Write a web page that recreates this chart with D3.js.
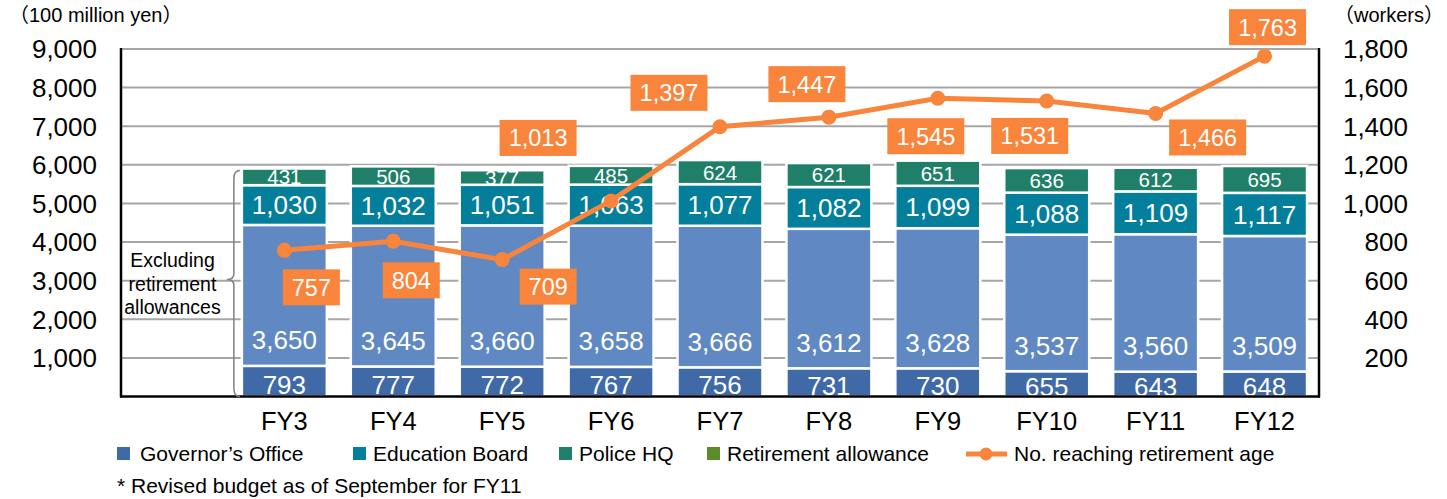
<!DOCTYPE html>
<html>
<head>
<meta charset="utf-8">
<script src="https://cdn.jsdelivr.net/npm/d3@7"></script>
<style>
  body { margin: 0; background: #fff; }
  svg { font-family: "Liberation Sans", Arial, "Noto Sans CJK JP", sans-serif; }
</style>
</head>
<body>
<div id="chart"></div>
<script>
// data
const categories = ["FY3", "FY4", "FY5", "FY6", "FY7", "FY8", "FY9", "FY10", "FY11", "FY12"];
const governorsOffice = [793, 777, 772, 767, 756, 731, 730, 655, 643, 648];
const schoolStaff = [3650, 3645, 3660, 3658, 3666, 3612, 3628, 3537, 3560, 3509];
const educationBoard = [1030, 1032, 1051, 1063, 1077, 1082, 1099, 1088, 1109, 1117];
const policeHQ = [431, 506, 377, 485, 624, 621, 651, 636, 612, 695];
const retirees = [757, 804, 709, 1013, 1397, 1447, 1545, 1531, 1466, 1763];
const leftTicks = [1000, 2000, 3000, 4000, 5000, 6000, 7000, 8000, 9000];
const rightTicks = [200, 400, 600, 800, 1000, 1200, 1400, 1600, 1800];

// where each orange label box sits relative to its point
const labelOffsets = [[27, 37], [18, 39], [46, 27], [-73, -63], [-51, -34], [-22, -33], [-12, 38], [-17, 35], [52, 24], [3, -29]];

const width = 1447, height = 499;
const plotLeft = 121, plotRight = 1319, plotTop = 49, plotBottom = 396.5;
const orange = "#F8853B";

const svg = d3.select("#chart").append("svg")
    .attr("width", width)
    .attr("height", height);

const rows = categories.map((c, i) => ({
    cat: c,
    gov: governorsOffice[i],
    school: schoolStaff[i],
    edu: educationBoard[i],
    police: policeHQ[i],
    retirees: retirees[i]
}));

// empty first slot holds the brace note
const x = d3.scaleBand()
    .domain([""].concat(categories))
    .range([plotLeft, plotRight])
    .paddingInner(0.22)
    .paddingOuter(0.11);

const y = d3.scaleLinear().domain([0, 9000]).range([plotBottom, plotTop]);
const yR = d3.scaleLinear().domain([0, 1800]).range([plotBottom, plotTop]);

// gridlines
svg.append("g").selectAll("line")
    .data(leftTicks)
    .enter().append("line")
        .attr("x1", plotLeft).attr("x2", plotRight)
        .attr("y1", (d) => y(d)).attr("y2", (d) => y(d))
        .attr("stroke", "#A6A6A6")
        .attr("stroke-width", 2);

// stacked bars
const keys = ["gov", "school", "edu", "police"];
const colors = { gov: "#3F69A7", school: "#6089C4", edu: "#037E9B", police: "#1F7F69" };
const stacked = d3.stack().keys(keys)(rows);

const layers = svg.append("g").selectAll("g")
    .data(stacked)
    .enter().append("g")
        .attr("fill", (d) => colors[d.key]);

layers.selectAll("rect")
    .data((d) => d)
    .enter().append("rect")
        .attr("x", (d) => x(d.data.cat))
        .attr("width", x.bandwidth())
        .attr("y", (d) => y(d[1]))
        .attr("height", (d) => y(d[0]) - y(d[1]))
        .attr("stroke", "#fff")
        .attr("stroke-width", 2.5);

// bar value labels
stacked.forEach((layer) => {
    svg.append("g").selectAll("text")
        .data(layer)
        .enter().append("text")
            .attr("x", (d) => x(d.data.cat) + x.bandwidth() / 2)
            .attr("y", (d) => {
                if (layer.key === "school") return y(d[0]) - 26;
                if (layer.key === "gov") return (y(d[0]) + y(d[1])) / 2 + 3;
                return (y(d[0]) + y(d[1])) / 2;
            })
            .attr("dy", "0.36em")
            .attr("text-anchor", "middle")
            .attr("fill", "#fff")
            .attr("font-size", layer.key === "police" ? 20.5 : 26)
            .text((d) => d3.format(",")(d.data[layer.key]));
});

// axis lines
svg.append("line").attr("x1", plotLeft).attr("x2", plotLeft).attr("y1", plotTop - 1).attr("y2", plotBottom + 1)
    .attr("stroke", "#000").attr("stroke-width", 2.5);
svg.append("line").attr("x1", plotRight).attr("x2", plotRight).attr("y1", plotTop - 1).attr("y2", plotBottom + 1)
    .attr("stroke", "#000").attr("stroke-width", 2.5);
svg.append("line").attr("x1", plotLeft - 1).attr("x2", plotRight + 1).attr("y1", plotBottom).attr("y2", plotBottom)
    .attr("stroke", "#000").attr("stroke-width", 2.5);

// tick labels
svg.append("g").selectAll("text")
    .data(leftTicks)
    .enter().append("text")
        .attr("x", 97)
        .attr("y", (d) => y(d))
        .attr("dy", "0.36em")
        .attr("text-anchor", "end")
        .attr("font-size", 26)
        .text((d) => d3.format(",")(d));

svg.append("g").selectAll("text")
    .data(rightTicks)
    .enter().append("text")
        .attr("x", 1408)
        .attr("y", (d) => yR(d))
        .attr("dy", "0.36em")
        .attr("text-anchor", "end")
        .attr("font-size", 26)
        .text((d) => d3.format(",")(d));

svg.append("g").selectAll("text")
    .data(categories)
    .enter().append("text")
        .attr("x", (d) => x(d) + x.bandwidth() / 2)
        .attr("y", 430)
        .attr("text-anchor", "middle")
        .attr("font-size", 25.5)
        .text((d) => d);

svg.append("text").attr("x", 9).attr("y", 22).attr("font-size", 20).text("（100 million yen）");
svg.append("text").attr("x", 1334).attr("y", 22).attr("font-size", 20).text("（workers）");

// brace note
let bx = x("FY3") - 8;
let bTop = y(rows[0].gov + rows[0].school + rows[0].edu + rows[0].police) + 2;
let bMid = (bTop + plotBottom) / 2 - 4;
svg.append("path")
    .attr("d", "M" + (bx + 6) + "," + bTop +
        " Q" + bx + "," + bTop + " " + bx + "," + (bTop + 8) +
        " L" + bx + "," + (bMid - 6) +
        " Q" + bx + "," + bMid + " " + (bx - 7) + "," + bMid +
        " Q" + bx + "," + bMid + " " + bx + "," + (bMid + 6) +
        " L" + bx + "," + (plotBottom - 8) +
        " Q" + bx + "," + plotBottom + " " + (bx + 6) + "," + plotBottom)
    .attr("fill", "none")
    .attr("stroke", "#808080")
    .attr("stroke-width", 1.5);

svg.append("g").selectAll("text")
    .data(["Excluding", "retirement", "allowances"])
    .enter().append("text")
        .attr("x", x("") + x.bandwidth() / 2 - 3)
        .attr("y", (d, i) => 267 + i * 23.5)
        .attr("text-anchor", "middle")
        .attr("font-size", 19.5)
        .text((d) => d);

// line series
const cx = (d) => x(d.cat) + x.bandwidth() / 2;
const line = d3.line().x(cx).y((d) => yR(d.retirees));

svg.append("path")
    .datum(rows)
    .attr("d", line)
    .attr("fill", "none")
    .attr("stroke", orange)
    .attr("stroke-width", 5);

svg.append("g").selectAll("circle")
    .data(rows)
    .enter().append("circle")
        .attr("cx", cx)
        .attr("cy", (d) => yR(d.retirees))
        .attr("r", 7.5)
        .attr("fill", orange);

const labels = svg.append("g").selectAll("g")
    .data(rows)
    .enter().append("g")
        .attr("transform", (d, i) => "translate(" + (cx(d) + labelOffsets[i][0]) + "," + (yR(d.retirees) + labelOffsets[i][1]) + ")");

labels.append("rect")
    .attr("x", (d) => d.retirees >= 1000 ? -38.5 : -28.5)
    .attr("width", (d) => d.retirees >= 1000 ? 77 : 57)
    .attr("y", -18)
    .attr("height", 36)
    .attr("fill", orange);

labels.append("text")
    .attr("text-anchor", "middle")
    .attr("dy", "0.36em")
    .attr("fill", "#fff")
    .attr("font-size", 23.5)
    .text((d) => d3.format(",")(d.retirees));

// legend
const legendItems = [
    { name: "Governor’s Office", color: "#3F69A7", x: 117 },
    { name: "Education Board", color: "#037E9B", x: 353 },
    { name: "Police HQ", color: "#1F7F69", x: 559 },
    { name: "Retirement allowance", color: "#5B8B2A", x: 707 }
];
const legend = svg.append("g").selectAll("g")
    .data(legendItems)
    .enter().append("g")
        .attr("transform", (d) => "translate(" + d.x + ",447)");
legend.append("rect").attr("width", 13).attr("height", 13).attr("fill", (d) => d.color);
legend.append("text").attr("x", (d, i) => i === 0 ? 23 : 20).attr("y", 13.5).attr("font-size", 21).text((d) => d.name);

const lineLegend = svg.append("g").attr("transform", "translate(966,454)");
lineLegend.append("line").attr("x1", 0).attr("x2", 41).attr("stroke", orange).attr("stroke-width", 5);
lineLegend.append("circle").attr("cx", 20).attr("r", 6.5).attr("fill", orange);
lineLegend.append("text").attr("x", 48).attr("y", 6.5).attr("font-size", 21).text("No. reaching retirement age");

svg.append("text").attr("x", 117).attr("y", 493).attr("font-size", 21)
    .text("* Revised budget as of September for FY11");
</script>
</body>
</html>
